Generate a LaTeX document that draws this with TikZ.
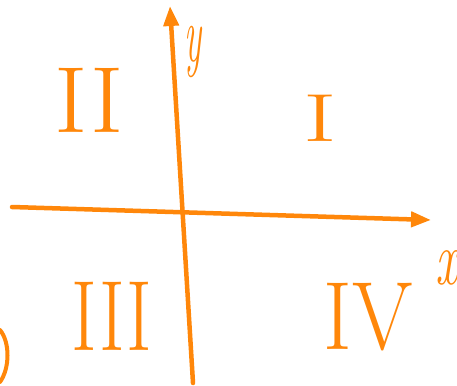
\documentclass[tikz,border=0pt]{standalone}
\usepackage{fontspec}
\usepackage{xcolor}
\usetikzlibrary{arrows.meta}
\definecolor{penorange}{RGB}{255,135,10}

\begin{document}
\begin{tikzpicture}[
  x=1pt, y=-1pt,
  axis/.style={penorange, line width=4.5pt, line cap=round, -{Triangle[length=20pt, width=15pt]}},
  pen/.style={penorange, line width=4pt, line cap=round},
  quad/.style={text=penorange, inner sep=0pt},
  axlbl/.style={text=penorange, inner sep=0pt},
]
\useasboundingbox (0,0) rectangle (457,385);
% axes
\coordinate (xstart) at (12,207);
\coordinate (xend) at (431,220);
\coordinate (ystart) at (193,383);
\coordinate (yend) at (170,6);
\draw[axis] (xstart) -- (xend);
\draw[axis] (ystart) -- (yend);

% axis labels
\node[axlbl, font=\fontsize{80}{80}\selectfont\itshape] (ylbl) at (193,52) {\scalebox{0.45}[1]{y}};
\node[axlbl, font=\fontsize{77}{77}\selectfont\itshape] (xlbl) at (447,268) {\scalebox{0.65}[1]{x}};

% quadrant numbers
\node[quad, font=\fontsize{68}{68}\selectfont] (quadI) at (320,118) {\scalebox{1.5}[1]{I}};
\node[quad, font=\fontsize{94}{94}\selectfont] (quadII) at (89,100) {\scalebox{1.08}[1]{II}};
\node[quad, font=\fontsize{100}{100}\selectfont] (quadIII) at (112,316) {\scalebox{0.78}[1]{III}};
\node[quad, font=\fontsize{97}{97}\selectfont] (quadIV) at (368,317) {\scalebox{0.9}[1]{IV}};

% stray stroke at the edge
\draw[pen] (0,330) .. controls (10,342) and (10,368) .. (0,382);
\end{tikzpicture}
\end{document}
